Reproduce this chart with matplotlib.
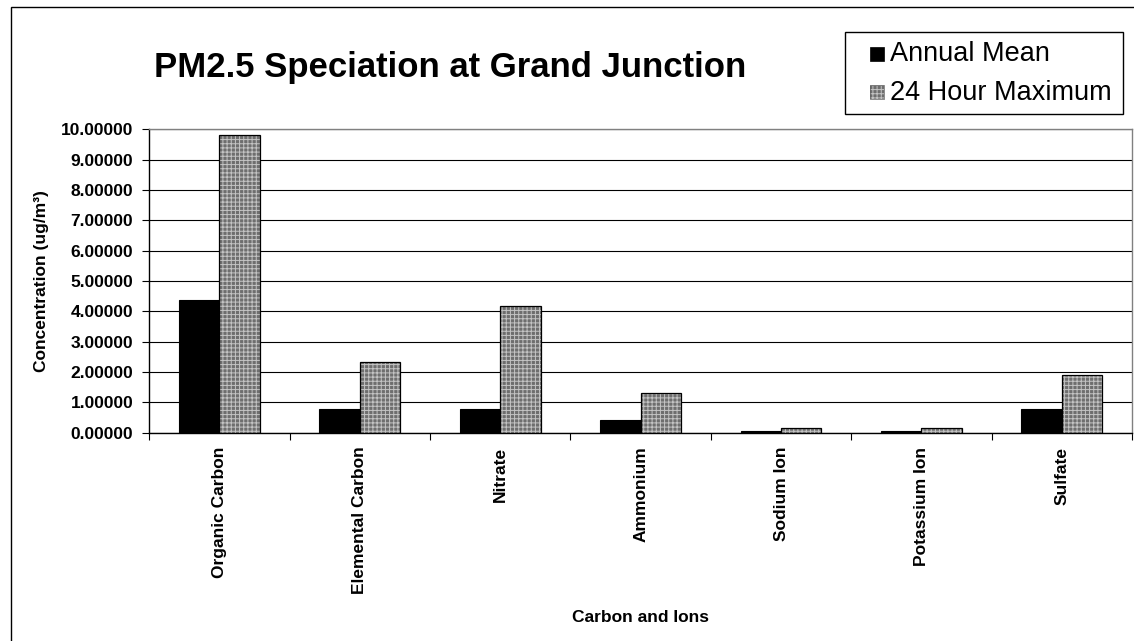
import matplotlib
matplotlib.use("Agg")
import matplotlib.pyplot as plt
import numpy as np
from matplotlib.patches import Rectangle

plt.rcParams["font.family"] = ["Liberation Sans", "DejaVu Sans"]
plt.rcParams["hatch.linewidth"] = 0.7

# data
species = ["Organic Carbon", "Elemental Carbon", "Nitrate", "Ammonium",
           "Sodium Ion", "Potassium Ion", "Sulfate"]
annual_mean = [4.38, 0.78, 0.78, 0.41, 0.05, 0.05, 0.78]
max_24h = [9.82, 2.33, 4.18, 1.30, 0.15, 0.15, 1.89]
series_names = ["Annual Mean", "24 Hour Maximum"]
yticks = np.arange(0, 11, 1)

FACE_HATCH = "#6e6e6e"
LINE_HATCH = "#c4c4c4"

W, H = 1134, 641
fig = plt.figure(figsize=(W / 100, H / 100), dpi=100)
ax = fig.add_axes([149.3 / W, 1 - 432.7 / H, (1132 - 149.3) / W, (432.7 - 129.5) / H])

x = np.arange(len(species))
bw = 0.288
ax.bar(x - bw / 2, annual_mean, bw, color="black", edgecolor="black", lw=0.8, zorder=3)
# hatched bars: grey face with light grid, then a black outline on top
ax.bar(x + bw / 2, max_24h, bw, color=FACE_HATCH, edgecolor=LINE_HATCH, hatch="++++",
       lw=0, zorder=3)
ax.bar(x + bw / 2, max_24h, bw, fill=False, edgecolor="black", lw=0.9, zorder=4)

ax.set_xlim(-0.5, len(species) - 0.5)
ax.set_ylim(0, 10)
ax.set_yticks(yticks)
ax.set_yticklabels([f"{v:.5f}" for v in yticks], fontsize=12.5, fontweight="bold")
ax.yaxis.grid(True, color="black", lw=0.8)
ax.set_axisbelow(True)

ax.set_xticks(x)
ax.set_xticklabels(species, rotation=90, fontsize=12.5, fontweight="bold", va="top")
ax.set_xticks(np.arange(-0.5, len(species), 1), minor=True)
ax.tick_params(axis="x", which="major", length=0, pad=10)
ax.tick_params(axis="x", which="minor", length=5, width=0.8, direction="out")
ax.tick_params(axis="y", length=5, width=0.8, direction="out", pad=6.5)

for s in ["left", "bottom"]:
    ax.spines[s].set_color("black")
    ax.spines[s].set_linewidth(1.0)
for s in ["top", "right"]:
    ax.spines[s].set_color("#808080")
    ax.spines[s].set_linewidth(1.0)

fig.text(42 / W, 1 - 281 / H, "Concentration (ug/m³)", rotation=90, ha="center",
         va="center", fontsize=12.5, fontweight="bold")
fig.text(640 / W, 1 - 617 / H, "Carbon and Ions", ha="center", va="center",
         fontsize=12.5, fontweight="bold")
fig.text(450 / W, 1 - 77 / H, "PM2.5 Speciation at Grand Junction", ha="center",
         va="baseline", fontsize=25, fontweight="bold")


def fx(px):
    return px / W


def fy(py):
    return 1 - py / H


# legend drawn by hand: Excel-style box with small square keys
fig.patches.append(Rectangle((fx(844.7), fy(113.5)), fx(1123) - fx(844.7),
                             fy(32) - fy(113.5), fill=True, facecolor="white",
                             edgecolor="black", lw=1.0, transform=fig.transFigure))
key_styles = [dict(facecolor="black", edgecolor="black", lw=0.5),
              dict(facecolor=FACE_HATCH, edgecolor=LINE_HATCH, hatch="++++", lw=0)]
key = 14
for i, (name, style) in enumerate(zip(series_names, key_styles)):
    cy = 53.5 + i * 38.5
    fig.patches.append(Rectangle((fx(870), fy(cy + key / 2)), fx(key), fy(0) - fy(key),
                                 transform=fig.transFigure, **style))
    if i == 1:
        fig.patches.append(Rectangle((fx(870), fy(cy + key / 2)), fx(key), fy(0) - fy(key),
                                     fill=False, edgecolor="#606060", lw=0.5,
                                     transform=fig.transFigure))
    fig.text(fx(890.5), fy(cy + 7.5), name, ha="left", va="baseline", fontsize=19.5)

# outer chart frame (right and bottom edges fall outside the image)
fig.patches.append(Rectangle((11 / W, -0.1), 1.2, 1 - 7.5 / H + 0.1, fill=False,
                             edgecolor="black", lw=1.0, transform=fig.transFigure))

fig.savefig("out.png", dpi=100, facecolor="white")
